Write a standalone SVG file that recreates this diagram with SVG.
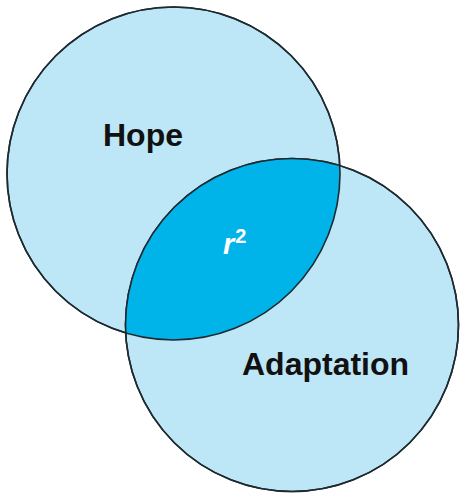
<svg xmlns="http://www.w3.org/2000/svg" width="464" height="495" viewBox="0 0 464 495">
  <style>
    .circ { fill: #bde6f6; stroke: #1e2a30; stroke-width: 1.6; }
    .lbl { font-family: "Liberation Sans", Arial, sans-serif; font-weight: bold; font-size: 32px; fill: #111; }
    .r2 { font-family: "Liberation Sans", Arial, sans-serif; font-weight: bold; fill: #ffffff; }
  </style>
  <defs>
    <clipPath id="clipHope">
      <circle cx="173.5" cy="173.5" r="166.5"/>
    </clipPath>
  </defs>
  <rect width="464" height="495" fill="#ffffff"/>
  <g id="hope">
    <circle class="circ" cx="173.5" cy="173.5" r="166.5"/>
    <text class="lbl" x="103" y="146">Hope</text>
  </g>
  <g id="adaptation">
    <circle class="circ" cx="292" cy="325" r="166.5"/>
    <text class="lbl" x="242" y="375">Adaptation</text>
  </g>
  <g id="overlap">
    <circle cx="292" cy="325" r="166.5" fill="#00b4ea" clip-path="url(#clipHope)"/>
    <circle cx="173.5" cy="173.5" r="166.5" fill="none" stroke="#1e2a30" stroke-width="1.6"/>
    <circle cx="292" cy="325" r="166.5" fill="none" stroke="#1e2a30" stroke-width="1.6"/>
    <text class="r2" x="223" y="254" font-size="29" font-style="italic">r<tspan font-size="20" font-style="normal" dx="1" dy="-11">2</tspan></text>
  </g>
  <g id="connectors"/>
</svg>
